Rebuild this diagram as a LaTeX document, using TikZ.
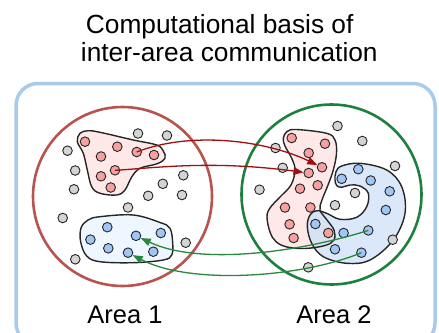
\documentclass[tikz,border=0pt]{standalone}
\usepackage{fontspec}
\setmainfont{Liberation Sans}
\usetikzlibrary{arrows.meta}
\definecolor{framec}{RGB}{169,203,235}
\definecolor{area1c}{RGB}{184,84,80}
\definecolor{area2c}{RGB}{30,128,62}
\definecolor{redblobc}{RGB}{255,232,232}
\definecolor{blueblobLc}{RGB}{238,246,255}
\definecolor{blueblobRc}{RGB}{205,224,248}
\definecolor{rdotc}{RGB}{246,160,160}
\definecolor{bdotc}{RGB}{160,198,245}
\definecolor{gdotc}{RGB}{212,212,212}
\definecolor{redarr}{RGB}{160,16,16}
\definecolor{greenarr}{RGB}{40,135,60}
\begin{document}
\begin{tikzpicture}[x=1pt,y=-1pt,
  dot/.style={circle, draw=black!85, line width=0.9pt, inner sep=0pt, minimum size=9.6pt},
  gdot/.style={dot, fill=gdotc},
  rdot/.style={dot, fill=rdotc},
  bdot/.style={dot, fill=bdotc},
  areacirc/.style={line width=2.6pt},
  blobline/.style={draw=black!85, line width=1.4pt},
  redarrow/.style={draw=redarr, line width=1.3pt, -{Triangle[length=10pt,width=7.5pt]}},
  greenarrow/.style={draw=greenarr, line width=1.3pt, -{Triangle[length=10pt,width=7.5pt]}},
  titletext/.style={font=\fontsize{26.3}{30}\selectfont, anchor=base, inner sep=0pt},
  labeltext/.style={font=\fontsize{25.5}{30}\selectfont, anchor=base, inner sep=0pt}
]
\useasboundingbox (0,0) rectangle (439,332);

% title
\node[titletext] (t1) at (219.7,33) {Computational basis of};
\node[titletext] (t2) at (229.3,61.5) {inter-area communication};

% frame
\draw[framec, line width=3.5pt, rounded corners=22pt] (16,83.5) rectangle (435,345);

% area circles
\draw[area1c, areacirc] (122.5,196.5) circle[radius=89.5];
\draw[area2c, areacirc] (331.5,194.5) circle[radius=90];

% labels
\node[labeltext] (a1) at (125,323) {Area 1};
\node[labeltext] (a2) at (334,323) {Area 2};

% left blobs
\draw[blobline, fill=redblobc] plot[smooth cycle, tension=0.6] coordinates {
 (80,133.3) (88,130.7) (100,132.3) (133.3,140) (156.7,145) (163.3,151) (165,158.3)
 (157,163.8) (140,168.3) (131.7,177) (125,190) (116.7,195) (100,193.3) (91.7,186.7)
 (87.3,170) (83.3,153.3) (77.3,141.7)};
\draw[blobline, fill=blueblobLc] plot[smooth cycle, tension=0.6] coordinates {
 (100,216.7) (133.3,215) (160,222.5) (170,228.3) (172.7,243.3) (171.7,255) (163.3,260)
 (133.3,262.7) (100,261.7) (86.7,256) (80.7,242) (81,228) (88,220)};

% right blobs
\fill[redblobc] plot[smooth cycle, tension=0.6] coordinates {
 (283.3,138.3) (287,131.5) (296.7,129.5) (326.7,133.3) (335,140) (336.5,153.3) (333.3,170)
 (328,185) (322,200) (320,210) (327,220) (334,230) (334,240) (325,245.5) (305,248.5)
 (287,247) (276,241.7) (270,232) (267,217) (270,208) (280,197) (291,185) (295,170)
 (291.7,158.3) (285,146)};
\fill[blueblobRc, fill opacity=0.75] plot[smooth cycle, tension=0.6] coordinates {
 (335,180) (336,171.7) (341.7,166) (360,163.3) (386.7,170) (401.7,186.7) (405,213.3)
 (393.3,240) (370,260) (346.7,263.3) (323.3,256.7) (311.7,243.3) (307.3,226.7) (310,215)
 (316.7,210.7) (326.7,213.3) (340,219.3) (356.7,217.3) (366.7,206.7) (368.3,193.3)
 (360,186) (350,185) (341.7,187.3) (336.7,185.5)};
\draw[blobline] plot[smooth cycle, tension=0.6] coordinates {
 (283.3,138.3) (287,131.5) (296.7,129.5) (326.7,133.3) (335,140) (336.5,153.3) (333.3,170)
 (328,185) (322,200) (320,210) (327,220) (334,230) (334,240) (325,245.5) (305,248.5)
 (287,247) (276,241.7) (270,232) (267,217) (270,208) (280,197) (291,185) (295,170)
 (291.7,158.3) (285,146)};
\draw[blobline] plot[smooth cycle, tension=0.6] coordinates {
 (335,180) (336,171.7) (341.7,166) (360,163.3) (386.7,170) (401.7,186.7) (405,213.3)
 (393.3,240) (370,260) (346.7,263.3) (323.3,256.7) (311.7,243.3) (307.3,226.7) (310,215)
 (316.7,210.7) (326.7,213.3) (340,219.3) (356.7,217.3) (366.7,206.7) (368.3,193.3)
 (360,186) (350,185) (341.7,187.3) (336.7,185.5)};

% left area dots
\node[rdot] (lr1) at (85,141.7) {};
\node[rdot] (lr2) at (117.3,146.7) {};
\node[rdot] (lr3) at (136.7,152) {};
\node[rdot] (lr4) at (154,155) {};
\node[rdot] (lr5) at (101,156.5) {};
\node[rdot] (lr6) at (115,170.3) {};
\node[rdot] (lr7) at (101,176.3) {};
\node[rdot] (lr8) at (110.7,187.5) {};

\node[gdot] (lg1) at (138,133.5) {};
\node[gdot] (lg2) at (167,135.5) {};
\node[gdot] (lg3) at (67.5,150.7) {};
\node[gdot] (lg4) at (75.2,170.5) {};
\node[gdot] (lg5) at (74,189.3) {};
\node[gdot] (lg6) at (183.3,175.3) {};
\node[gdot] (lg7) at (162.8,183.8) {};
\node[gdot] (lg8) at (148.2,195.8) {};
\node[gdot] (lg9) at (182,195) {};
\node[gdot] (lg10) at (128,207.5) {};
\node[gdot] (lg11) at (62.7,218) {};
\node[gdot] (lg12) at (185.7,242.7) {};
\node[gdot] (lg13) at (75.3,259.3) {};

\node[bdot] (lb1) at (107.3,227.2) {};
\node[bdot] (lb2) at (160.8,233) {};
\node[bdot] (lb3) at (136,235.8) {};
\node[bdot] (lb4) at (90.4,239.6) {};
\node[bdot] (lb5) at (108.3,248.3) {};
\node[bdot] (lb6) at (153.3,251.7) {};
\node[bdot] (lb7) at (128,252.7) {};

% right area dots
\node[rdot] (rr1) at (291.7,138) {};
\node[rdot] (rr2) at (325,143.7) {};
\node[rdot] (rr3) at (308.7,153) {};
\node[rdot] (rr4) at (322,167.3) {};
\node[rdot] (rr5) at (308.7,173) {};
\node[rdot] (rr6) at (300,188.7) {};
\node[rdot] (rr7) at (317.7,185.3) {};
\node[rdot] (rr8) at (285,207.5) {};
\node[rdot] (rr9) at (310.4,207.5) {};
\node[rdot] (rr10) at (289.6,224.3) {};
\node[rdot] (rr11) at (293.6,238) {};
\node[rdot] (rr12) at (328.3,233) {};

\node[gdot] (rg1) at (337.5,126) {};
\node[gdot] (rg2) at (362.3,141) {};
\node[gdot] (rg3) at (275.5,148) {};
\node[gdot] (rg4) at (282.7,167.8) {};
\node[gdot] (rg5) at (395,166) {};
\node[gdot] (rg6) at (259.5,189.7) {};
\node[gdot] (rg7) at (355,193) {};
\node[gdot] (rg8) at (335,205.2) {};
\node[gdot] (rg9) at (392.7,239.7) {};
\node[gdot] (rg10) at (308.3,267.3) {};

\node[bdot] (rb1) at (358.3,169.2) {};
\node[bdot] (rb2) at (341.7,178.8) {};
\node[bdot] (rb3) at (370.7,180.5) {};
\node[bdot] (rb4) at (389.7,191.3) {};
\node[bdot] (rb5) at (385.8,210) {};
\node[bdot] (rb6) at (315.4,224) {};
\node[bdot] (rb7) at (343.6,233) {};
\node[bdot] (rb8) at (368.3,230.4) {};
\node[bdot] (rb9) at (335,249.3) {};
\node[bdot] (rb10) at (361.4,252.7) {};

% arrows
\draw[redarrow] (lr3.center) .. controls (190,131) and (265,140) .. (rr4);
\draw[redarrow] (lr6.center) .. controls (155,168) and (210,160) .. (rr5);
\draw[greenarrow] (rb8.center) .. controls (300,252) and (200,266) .. (lb3);
\draw[greenarrow] (rb10.center) .. controls (300,278) and (190,285) .. (lb7);
\end{tikzpicture}
\end{document}
